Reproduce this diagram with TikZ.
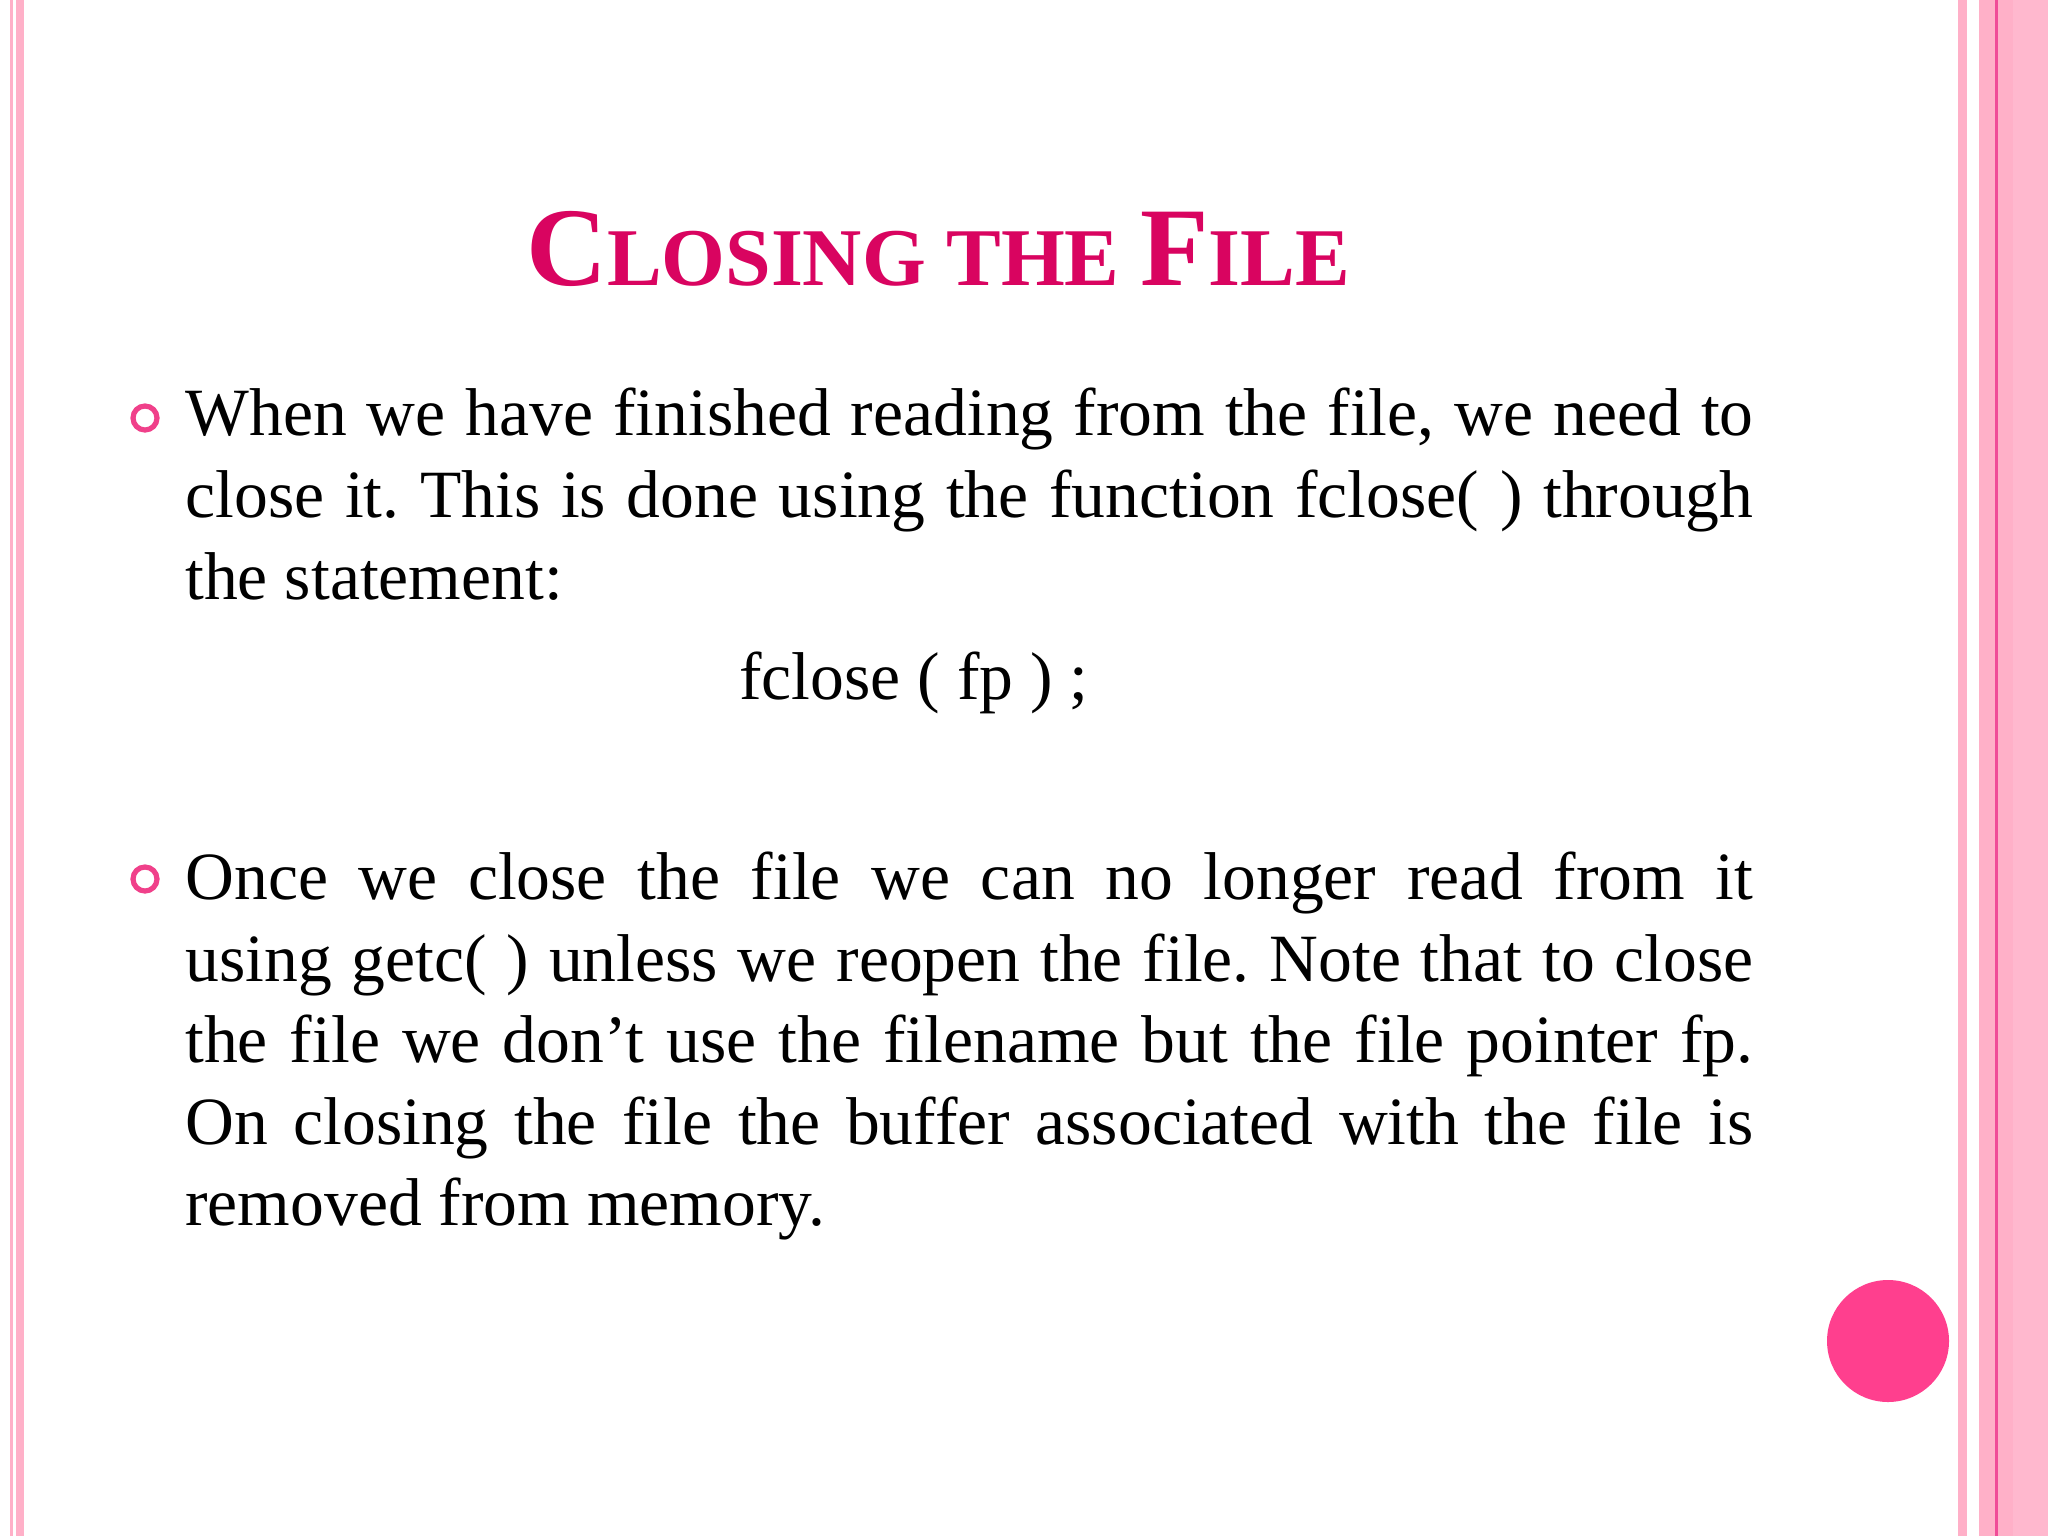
\documentclass[tikz,border=0pt]{standalone}
\usepackage{fontspec}
\setmainfont{Liberation Serif}
\definecolor{stripe}{HTML}{FFB0C8}
\definecolor{stripeL}{HTML}{FFB8CE}
\definecolor{stripeD}{HTML}{F04C98}
\definecolor{titlec}{HTML}{D90460}
\definecolor{bulletc}{HTML}{F0408A}
\definecolor{dotc}{HTML}{FF3F8E}
\tikzset{line/.style={anchor=base west,inner sep=0pt,font=\fontsize{33.8}{40}\selectfont},
 bul/.style={circle,draw=bulletc,line width=2.6pt,minimum size=12pt,inner sep=0pt}}
\newcommand{\jline}[1]{\hbox to 784pt{#1}}
\frenchspacing
\begin{document}
\begin{tikzpicture}[x=0.5pt,y=-0.5pt]
\useasboundingbox (0,0) rectangle (2048,1536);
\fill[white] (0,0) rectangle (2048,1536);
% left stripes
\fill[stripe] (10,0) rectangle (13,1536);
\fill[stripe] (16,0) rectangle (24,1536);
% right stripes
\fill[stripe] (1958,0) rectangle (1967,1536);
\fill[stripe] (1979,0) rectangle (1995,1536);
\fill[stripeD] (1995,0) rectangle (1998,1536);
\fill[stripe] (1998,0) rectangle (2013,1536);
\fill[stripeL] (2013,0) rectangle (2048,1536);
% title
\node[anchor=base,inner sep=0pt,text=titlec,font=\bfseries] (title) at (938,285)
 {{\fontsize{56}{60}\selectfont C}{\fontsize{41}{48}\selectfont LOSING THE }{\fontsize{56}{60}\selectfont F}{\fontsize{41}{48}\selectfont ILE}};
% bullets
\node[bul] (b1) at (145,418) {};
\node[bul] (b2) at (145,879) {};
% paragraph 1
\node[line] (l1) at (185,435) {\jline{When we have finished reading from the file, we need to}};
\node[line] (l2) at (185,517) {\jline{close it. This is done using the function fclose( ) through}};
\node[line] (l3) at (185,599) {the statement:};
\node[anchor=base,inner sep=0pt,font=\fontsize{33.8}{40}\selectfont] (code) at (914,699) {fclose ( fp ) ;};
% paragraph 2
\node[line] (m1) at (185,899) {\jline{Once we close the file we can no longer read from it}};
\node[line] (m2) at (185,981) {\jline{using getc( ) unless we reopen the file. Note that to close}};
\node[line] (m3) at (185,1062) {\jline{the file we don’t use the filename but the file pointer fp.}};
\node[line] (m4) at (185,1144) {\jline{On closing the file the buffer associated with the file is}};
\node[line] (m5) at (185,1225) {removed from memory.};
% dot
\fill[dotc] (1888,1341) circle (61);
\end{tikzpicture}
\end{document}
